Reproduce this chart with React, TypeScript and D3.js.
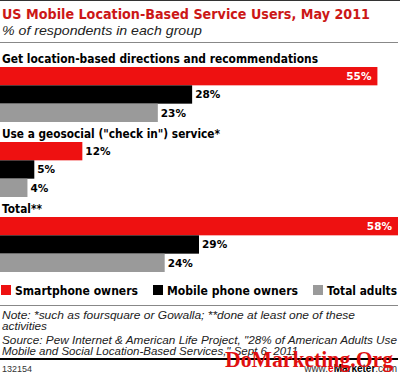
import * as d3 from "d3";

const groups = [
  "Get location-based directions and recommendations",
  'Use a geosocial ("check in") service*',
  "Total**",
];
const seriesNames = ["Smartphone owners", "Mobile phone owners", "Total adults"];
const smartphoneOwners = [55, 12, 58];
const mobilePhoneOwners = [28, 5, 29];
const totalAdults = [23, 4, 24];
const noteLines = [
  "Note: *such as foursquare or Gowalla; **done at least one of these",
  "activities",
  'Source: Pew Internet & American Life Project, "28% of American Adults Use',
  'Mobile and Social Location-Based Services," Sept 6, 2011',
];

const W = 400;
const H = 375;
const colors = ["#ee1111", "#000000", "#9a9a9a"];
const sans = "'DejaVu Sans', Verdana, sans-serif";
const arial = "'Liberation Sans', Arial, sans-serif";

// measured widths of the long text runs in the reference
const headingWidths = [316, 218, 40];
const legendWidths = [123, 131, 70];
const legendX = [1, 153, 313];
const noteWidths = [353, 45, 395, 296];

export default function App() {
  const values = [smartphoneOwners, mobilePhoneOwners, totalAdults];

  const x = d3.scaleLinear().domain([0, 58]).range([0, 398]);
  const yGroup = d3
    .scaleBand()
    .domain(groups)
    .range([67, 272])
    .paddingInner(20 / 75)
    .paddingOuter(0);
  const ySeries = d3.scaleBand().domain(seriesNames).range([0, yGroup.bandwidth()]).padding(0);

  return (
    <svg
      width={W}
      height={H}
      style={{ position: "absolute", left: 0, top: 0, background: "#fff" }}
    >
      <line x1={0} x2={W} y1={0.5} y2={0.5} stroke="#333" strokeWidth={1} />
      <text
        x={2}
        y={19}
        fill="#cc1717"
        fontFamily={sans}
        fontWeight="bold"
        fontSize={13.5}
        textLength={368}
        lengthAdjust="spacingAndGlyphs"
      >
        US Mobile Location-Based Service Users, May 2011
      </text>
      <text
        x={2}
        y={35}
        fill="#222"
        fontFamily={arial}
        fontStyle="italic"
        fontSize={13.5}
        textLength={200}
        lengthAdjust="spacingAndGlyphs"
      >
        % of respondents in each group
      </text>
      <line x1={0} x2={398} y1={42.5} y2={42.5} stroke="#888" strokeWidth={1} />

      {groups.map((group, gi) => {
        const gy = yGroup(group) ?? 0;
        return (
          <g key={group}>
            <text
              x={2}
              y={gy - 4}
              fill="#000"
              fontFamily={sans}
              fontWeight="bold"
              fontSize={12}
              textLength={headingWidths[gi]}
              lengthAdjust="spacingAndGlyphs"
            >
              {group}
            </text>
            {seriesNames.map((name, si) => {
              const v = values[si][gi];
              const by = gy + (ySeries(name) ?? 0);
              const bh = ySeries.bandwidth();
              const inside = x(v) + 30 > W;
              return (
                <g key={name}>
                  <rect x={0} y={by} width={x(v)} height={bh} fill={colors[si]} />
                  <text
                    x={inside ? x(v) - 6 : x(v) + 3}
                    y={by + bh / 2}
                    dy="0.36em"
                    textAnchor={inside ? "end" : "start"}
                    fill={inside ? "#fff" : "#000"}
                    fontFamily={sans}
                    fontWeight="bold"
                    fontSize={10.5}
                  >
                    {v}%
                  </text>
                </g>
              );
            })}
          </g>
        );
      })}

      {seriesNames.map((name, si) => (
        <g key={name} transform={`translate(${legendX[si]},285)`}>
          <rect x={0} y={0} width={10} height={10} fill={colors[si]} />
          <text
            x={14}
            y={10}
            fill="#000"
            fontFamily={sans}
            fontWeight="bold"
            fontSize={12}
            textLength={legendWidths[si]}
            lengthAdjust="spacingAndGlyphs"
          >
            {name}
          </text>
        </g>
      ))}

      <line x1={0} x2={398} y1={305.5} y2={305.5} stroke="#888" strokeWidth={1} />
      {noteLines.map((line, i) => (
        <text
          key={line}
          x={2}
          y={[319, 330, 344, 355][i]}
          fill="#222"
          fontFamily={arial}
          fontStyle="italic"
          fontSize={11.5}
          textLength={noteWidths[i]}
          lengthAdjust="spacingAndGlyphs"
        >
          {line}
        </text>
      ))}
      <line x1={0} x2={398} y1={359} y2={359} stroke="#000" strokeWidth={2} />
      <text x={2} y={372} fill="#333" fontFamily={arial} fontSize={9}>
        132154
      </text>
      <text x={397} y={372} textAnchor="end" fill="#333" fontFamily={arial} fontSize={10}>
        <tspan>www.</tspan>
        <tspan fill="#e00" fontWeight="bold">e</tspan>
        <tspan fill="#000" fontWeight="bold">Marketer</tspan>
        <tspan>.com</tspan>
      </text>
      <text
        x={225}
        y={367}
        fill="#e01010"
        fontFamily="'Liberation Serif', 'DejaVu Serif', serif"
        fontWeight="bold"
        fontSize={23}
        textLength={168}
        lengthAdjust="spacingAndGlyphs"
      >
        DoMarketing.Org
      </text>
    </svg>
  );
}
